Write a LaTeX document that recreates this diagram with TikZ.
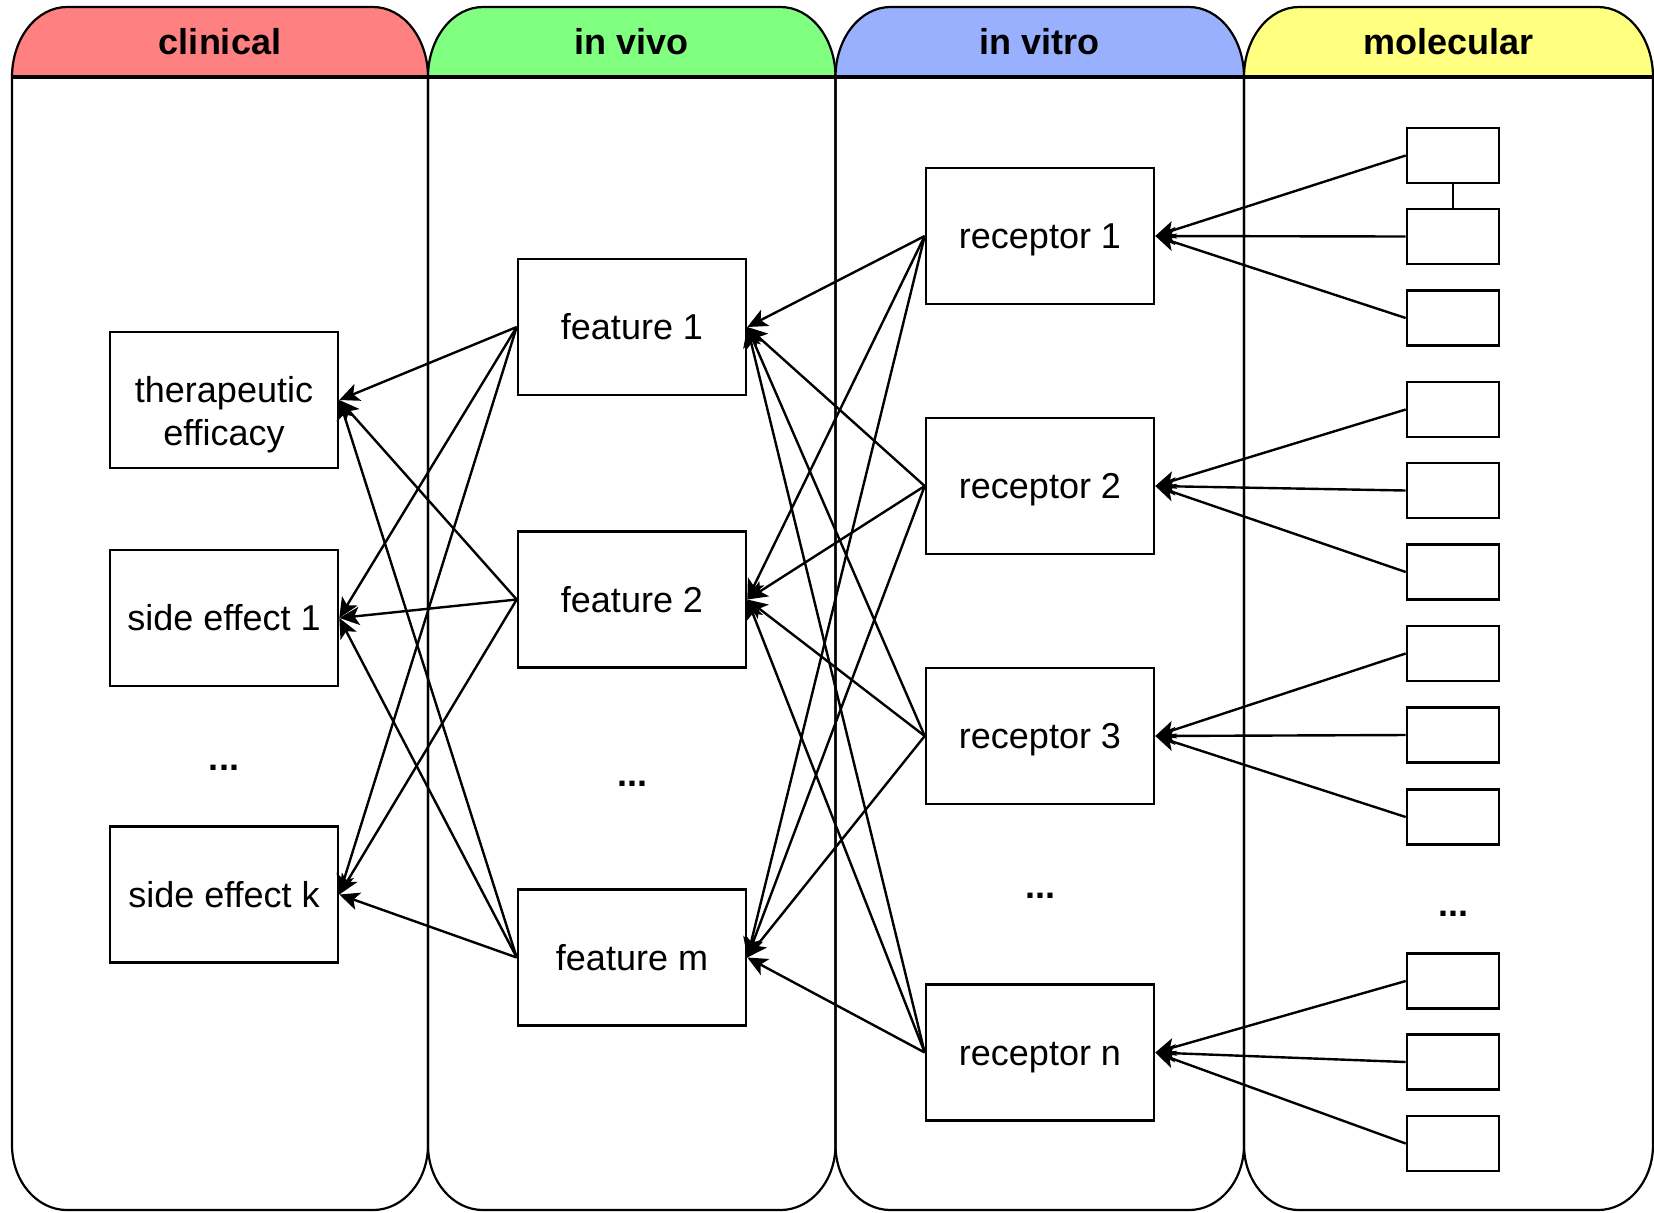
\documentclass[tikz,border=0pt]{standalone}
\usepackage{fontspec}
\setmainfont{Liberation Sans}
\usetikzlibrary{arrows.meta}
\definecolor{hclin}{HTML}{FF8080}
\definecolor{hvivo}{HTML}{80FF80}
\definecolor{hvitro}{HTML}{99B0FF}
\definecolor{hmol}{HTML}{FFFF80}
\newcommand\mylane[5]{%
  \pgfmathsetmacro\la{#1+55}\pgfmathsetmacro\lb{#2-55}%
  \pgfmathsetmacro\lc{#1+24.6}\pgfmathsetmacro\ld{#2-24.6}%
  \pgfmathsetmacro\lm{(#1+#2)/2}%
  \filldraw[fill=#3, line width=1.1pt] (#1,77) .. controls (#1,38.4) and (\lc,7) .. (\la,7) -- (\lb,7) .. controls (\ld,7) and (#2,38.4) .. (#2,77) -- cycle;
  \draw[line width=1.1pt] (#1,77) -- (#1,1145) .. controls (#1,1180.9) and (\lc,1210) .. (\la,1210) -- (\lb,1210) .. controls (\ld,1210) and (#2,1180.9) .. (#2,1145) -- (#2,77);
  \node[lanetitle] (#5) at (\lm,54) {#4};
}
\begin{document}
\begin{tikzpicture}[x=0.5pt,y=-0.5pt,
  lanetitle/.style={anchor=base, font=\fontsize{18}{22}\selectfont\bfseries, inner sep=0pt},
  box/.style={draw, line width=1.3pt, minimum width=114pt, minimum height=68pt, inner sep=0pt, align=center, font=\fontsize{18}{22}\selectfont},
  onebox/.style={box, text height=12.9pt, text depth=0pt},
  boxtext/.style={anchor=base, inner sep=0pt, font=\fontsize{18}{22}\selectfont},
  mol/.style={draw, line width=1.3pt, minimum width=46pt, minimum height=27.5pt, inner sep=0pt},
  dots/.style={anchor=base, font=\fontsize{18}{22}\selectfont\bfseries, inner sep=0pt},
  conn/.style={line width=1.2pt, -{Stealth[length=10pt,width=9pt,inset=2.5pt]}},
  link/.style={line width=0.8pt}]
\useasboundingbox (0,0) rectangle (1654,1212);

\mylane{12}{428}{hclin}{clinical}{tclin}
\mylane{428}{835.5}{hvivo}{in vivo}{tvivo}
\mylane{835.5}{1244}{hvitro}{in vitro}{tvitro}
\mylane{1244}{1653}{hmol}{molecular}{tmol}
\draw[line width=1.8pt] (12,77) -- (1653,77);

% clinical
\node[box] (te) at (224,400) {};
\node[boxtext] (te1) at (224,402) {therapeutic};
\node[boxtext] (te2) at (224,445) {efficacy};
\node[onebox] (se1) at (224,618) {side effect 1};
\node[dots] (d1) at (224,770) {...};
\node[onebox] (sek) at (224,894.5) {side effect k};

% in vivo
\node[onebox] (f1) at (632,327) {feature 1};
\node[onebox] (f2) at (632,599.5) {feature 2};
\node[dots] (d2) at (632,786) {...};
\node[onebox] (fm) at (632,957.5) {feature m};

% in vitro
\node[onebox] (r1) at (1040,236) {receptor 1};
\node[onebox] (r2) at (1040,486) {receptor 2};
\node[onebox] (r3) at (1040,736) {receptor 3};
\node[dots] (d3) at (1040,898) {...};
\node[onebox] (rn) at (1040,1052.5) {receptor n};

% molecular
\node[mol] (m11) at (1453,155.5) {};
\node[mol] (m12) at (1453,236.5) {};
\node[mol] (m13) at (1453,318) {};
\node[mol] (m21) at (1453,409.5) {};
\node[mol] (m22) at (1453,490.5) {};
\node[mol] (m23) at (1453,572) {};
\node[mol] (m31) at (1453,653.5) {};
\node[mol] (m32) at (1453,735) {};
\node[mol] (m33) at (1453,817) {};
\node[dots] (d4) at (1453,916) {...};
\node[mol] (m41) at (1453,981) {};
\node[mol] (m42) at (1453,1062) {};
\node[mol] (m43) at (1453,1143.5) {};

\draw[link] (m11.south) -- (m12.north);

% molecular -> in vitro
\foreach \g/\r in {1/r1,2/r2,3/r3,4/rn}{
  \foreach \k in {1,2,3}{
    \draw[conn] (m\g\k.west) -- (\r.east);
  }
}
% in vitro -> in vivo
\foreach \r in {r1,r2,r3,rn}{
  \foreach \f in {f1,f2,fm}{
    \draw[conn] (\r.west) -- (\f.east);
  }
}
% in vivo -> clinical
\foreach \f in {f1,f2,fm}{
  \foreach \c in {te,se1,sek}{
    \draw[conn] (\f.west) -- (\c.east);
  }
}
\end{tikzpicture}
\end{document}
